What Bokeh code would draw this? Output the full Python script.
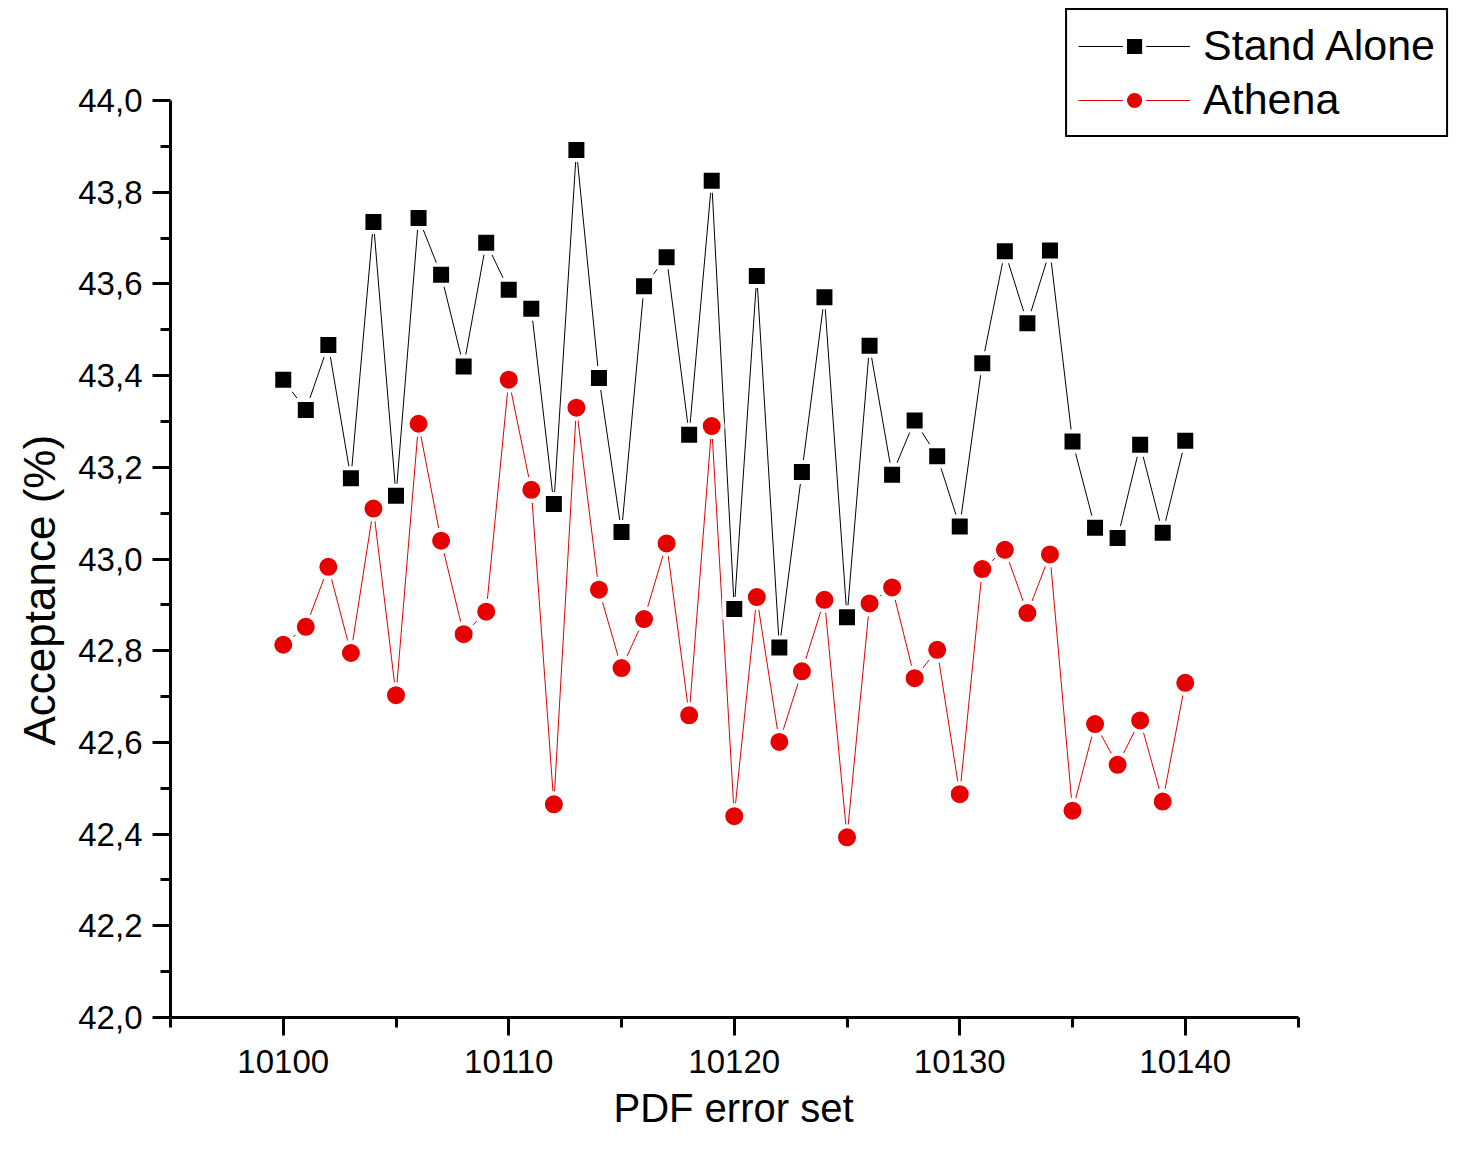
from bokeh.plotting import figure
from bokeh.models import (Range1d, FixedTicker, CustomJSTickFormatter, Title,
                          Legend, LegendItem, ColumnDataSource)
from bokeh.embed import file_html
from bokeh.resources import INLINE

# ---------------- data ----------------
pdf_set = [10100, 10101, 10102, 10103, 10104, 10105, 10106, 10107, 10108, 10109,
           10110, 10111, 10112, 10113, 10114, 10115, 10116, 10117, 10118, 10119,
           10120, 10121, 10122, 10123, 10124, 10125, 10126, 10127, 10128, 10129,
           10130, 10131, 10132, 10133, 10134, 10135, 10136, 10137, 10138, 10139,
           10140]

stand_alone = [43.391, 43.325, 43.467, 43.176, 43.735, 43.138, 43.744, 43.620, 43.420, 43.690,
               43.587, 43.546, 43.120, 43.892, 43.395, 43.059, 43.595, 43.658, 43.271, 43.825,
               42.891, 43.617, 42.807, 43.190, 43.571, 42.873, 43.465, 43.184, 43.302, 43.224,
               43.071, 43.427, 43.671, 43.514, 43.673, 43.256, 43.068, 43.046, 43.249, 43.057,
               43.258]

athena = [42.813, 42.852, 42.983, 42.795, 43.110, 42.703, 43.295, 43.040, 42.836, 42.885,
          43.391, 43.151, 42.465, 43.330, 42.933, 42.762, 42.869, 43.034, 42.659, 43.290,
          42.439, 42.917, 42.601, 42.755, 42.911, 42.393, 42.903, 42.938, 42.740, 42.802,
          42.487, 42.978, 43.020, 42.882, 43.010, 42.451, 42.640, 42.551, 42.648, 42.471,
          42.730]

series_names = ["Stand Alone", "Athena"]
x_major_ticks = [10100, 10110, 10120, 10130, 10140]
x_minor_ticks = [10095, 10105, 10115, 10125, 10135, 10145]
y_major_ticks = [42.0, 42.2, 42.4, 42.6, 42.8, 43.0, 43.2, 43.4, 43.6, 43.8, 44.0]
y_minor_ticks = [42.1, 42.3, 42.5, 42.7, 42.9, 43.1, 43.3, 43.5, 43.7, 43.9]
x_axis_title = "PDF error set"
y_axis_title = "Acceptance (%)"

# ---------------- layout ----------------
W, H = 1450, 1139
LEFT, TOP = 170, 6
FRAME_BOTTOM = 1017
BOTTOM = H - FRAME_BOTTOM
frame_w, frame_h = W - LEFT, FRAME_BOTTOM - TOP
px_x = 22.55
px_y = 458.5
x0, y0 = 10095, 42.0

FONT = "Liberation Sans"

p = figure(width=W, height=H,
           x_range=Range1d(x0, x0 + frame_w / px_x),
           y_range=Range1d(y0, y0 + frame_h / px_y),
           output_backend="svg", toolbar_location=None,
           min_border_left=LEFT, min_border_right=0,
           min_border_top=TOP, min_border_bottom=BOTTOM,
           background_fill_color="white", border_fill_color="white")
p.outline_line_color = None
p.xgrid.visible = False
p.ygrid.visible = False

p.xaxis.bounds = (10095, 10145)
p.yaxis.bounds = (42.0, 44.0)
p.xaxis.ticker = FixedTicker(ticks=x_major_ticks, minor_ticks=x_minor_ticks)
p.yaxis.ticker = FixedTicker(ticks=y_major_ticks, minor_ticks=y_minor_ticks)
p.yaxis.formatter = CustomJSTickFormatter(code="return tick.toFixed(1).replace('.', ',');")

for ax in (p.xaxis[0], p.yaxis[0]):
    ax.axis_line_width = 3
    ax.axis_line_color = "black"
    ax.major_tick_line_width = 3
    ax.minor_tick_line_width = 3
    ax.major_tick_line_color = "black"
    ax.minor_tick_line_color = "black"
    ax.major_tick_in = 0
    ax.major_tick_out = 18
    ax.minor_tick_in = 0
    ax.minor_tick_out = 10
    ax.major_label_text_font = FONT
    ax.major_label_text_font_size = "33px"
    ax.major_label_text_color = "black"
p.xaxis.major_label_standoff = 14
p.yaxis.major_label_standoff = 10

src = ColumnDataSource(dict(x=pdf_set, sa=stand_alone, at=athena))

l1 = p.line("x", "sa", source=src, line_color="#000000", line_width=1)
l2 = p.line("x", "at", source=src, line_color="#e00000", line_width=1)
s1 = p.scatter("x", "sa", source=src, marker="square", size=20,
               fill_color="#000000", line_color="white", line_width=4)
s2 = p.scatter("x", "at", source=src, marker="circle", size=22,
               fill_color="#e60000", line_color="white", line_width=4)

legend = Legend(items=[LegendItem(label=series_names[0], renderers=[l1, s1]),
                       LegendItem(label=series_names[1], renderers=[l2, s2])],
                location="top_right")
legend.margin = 2
legend.padding = 11
legend.spacing = 5
legend.glyph_width = 112
legend.glyph_height = 48
legend.label_height = 48
legend.label_standoff = 13
legend.label_text_font = FONT
legend.label_text_font_size = "43px"
legend.label_text_color = "black"
legend.border_line_color = "black"
legend.border_line_alpha = 1.0
legend.border_line_width = 2
legend.background_fill_color = "white"
legend.background_fill_alpha = 1.0
p.add_layout(legend)

xtitle = Title(text=x_axis_title, align="left", offset=443,
               text_font=FONT, text_font_size="40px", text_font_style="normal",
               text_color="black", standoff=17)
ytitle = Title(text=y_axis_title, align="left", offset=272,
               text_font=FONT, text_font_size="44px", text_font_style="normal",
               text_color="black", standoff=23)
p.add_layout(xtitle, "below")
p.add_layout(ytitle, "left")

open("out.html", "w").write(file_html(p, INLINE))
